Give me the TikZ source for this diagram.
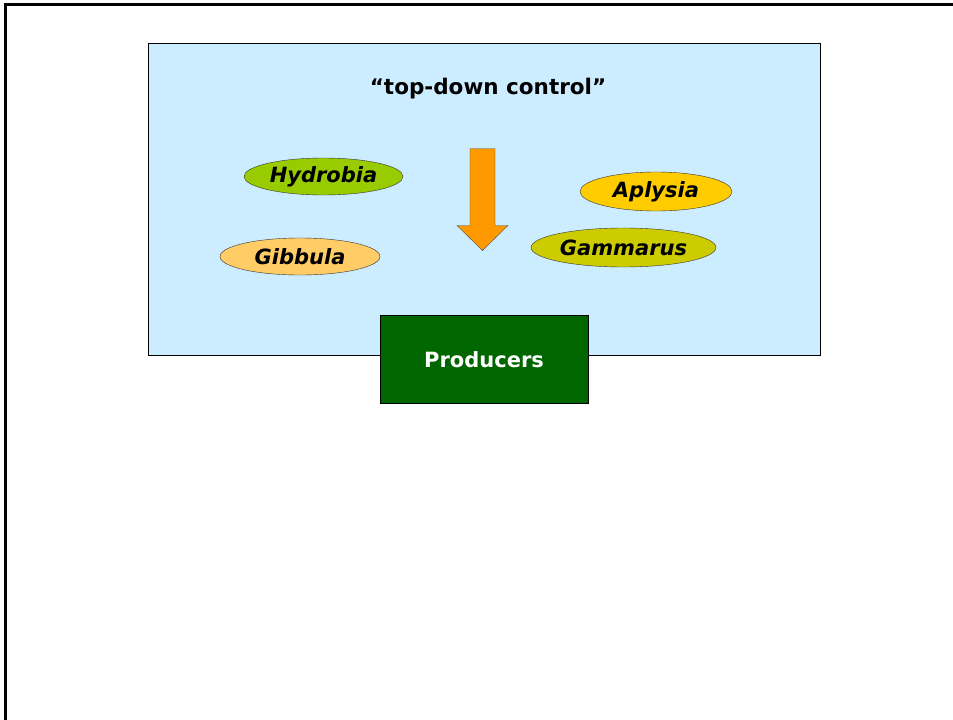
\documentclass[tikz,border=0pt]{standalone}
\usepackage{fontspec}
\setmainfont{DejaVu Sans}
\usetikzlibrary{shapes.geometric}
\definecolor{seablue}{HTML}{CCECFF}
\definecolor{hydrobiagreen}{HTML}{99CC00}
\definecolor{gibbulaorange}{HTML}{FFCC66}
\definecolor{aplysiayellow}{HTML}{FFCC00}
\definecolor{gammarusolive}{HTML}{CCCC00}
\definecolor{arroworange}{HTML}{FF9900}
\definecolor{producergreen}{HTML}{006600}
\tikzstyle{species}=[ellipse, draw=black!80, thin, inner sep=0pt, font=\fontsize{21}{21}\selectfont\bfseries\itshape]
\tikzstyle{level}=[rectangle, draw=black, thin, inner sep=0pt]

\begin{document}
\begin{tikzpicture}[x=1pt, y=-1pt]
      \useasboundingbox (0,0) rectangle (953,720);
      \draw[line width=3pt] (5.5,725) to (5.5,4.5) to (958,4.5);
      \node[level, fill=seablue, minimum width=672pt, minimum height=312pt] (sea) at (484,199) {};
      \node[font=\fontsize{21.5}{21.5}\selectfont\bfseries] (title) at (488,89) {“top-down control”};
      \node[species, fill=hydrobiagreen, minimum width=159pt, minimum height=37pt] (hydrobia) at (323.5,176.5) {Hydrobia};
      \node[species, fill=gibbulaorange, minimum width=160pt, minimum height=37pt] (gibbula) at (300,256.5) {Gibbula};
      \node[species, fill=aplysiayellow, minimum width=152pt, minimum height=39pt] (aplysia) at (656,191.5) {Aplysia};
      \node[species, fill=gammarusolive, minimum width=185pt, minimum height=39pt] (gammarus) at (623.5,247.5) {Gammarus};
      \draw[thin, draw=black!70, fill=arroworange] (470,148.5) to (495,148.5) to (495,225.5)
        to (508,225.5) to (482.5,250.5) to (457,225.5) to (470,225.5) to cycle;
      \node[level, fill=producergreen, minimum width=208pt, minimum height=88pt,
        text height=17pt, text depth=0pt,
        text=white, font=\fontsize{21}{21}\selectfont\bfseries] (producers) at (484,359) {Producers};
    \end{tikzpicture}
\end{document}
